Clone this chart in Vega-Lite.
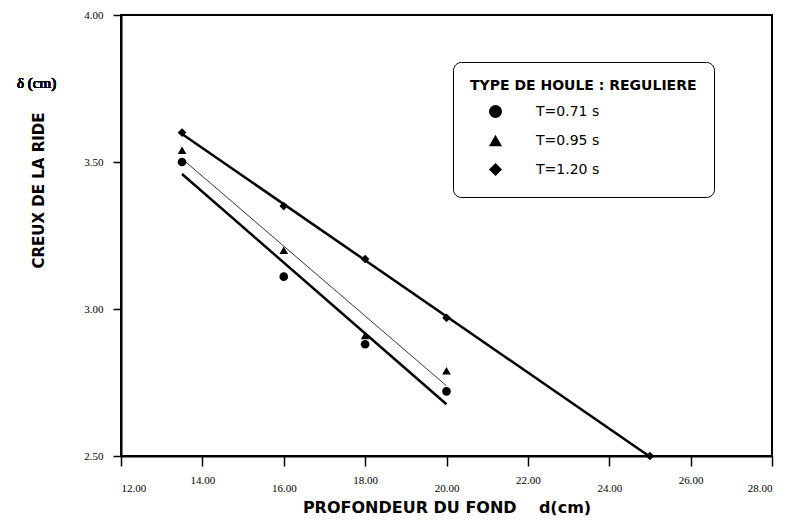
{
  "$schema": "https://vega.github.io/schema/vega-lite/v6.json",
  "width": 651,
  "height": 441,
  "autosize": "none",
  "padding": {"left": 121, "top": 15, "right": 17, "bottom": 64},
  "background": "white",
  "config": {
    "view": {"stroke": "black", "strokeWidth": 2},
    "axis": {
      "domainColor": "black",
      "domainWidth": 2,
      "tickColor": "black",
      "tickWidth": 1.5,
      "grid": false,
      "labelFont": "Liberation Serif",
      "labelFontSize": 11,
      "labelFontWeight": "normal",
      "labelColor": "black",
      "titleColor": "black",
      "titleFont": "DejaVu Sans",
      "titleFontWeight": "bold"
    },
    "legend": {
      "titleFont": "DejaVu Sans",
      "titleFontSize": 14,
      "titleFontWeight": "bold",
      "titleColor": "black",
      "titleLimit": 320,
      "labelFont": "DejaVu Sans",
      "labelFontSize": 14,
      "labelColor": "black"
    }
  },
  "data": {
    "values": [
      {"d": 13.5, "delta": 3.50, "T": "T=0.71 s"},
      {"d": 16.0, "delta": 3.11, "T": "T=0.71 s"},
      {"d": 18.0, "delta": 2.88, "T": "T=0.71 s"},
      {"d": 20.0, "delta": 2.72, "T": "T=0.71 s"},
      {"d": 13.5, "delta": 3.54, "T": "T=0.95 s"},
      {"d": 16.0, "delta": 3.20, "T": "T=0.95 s"},
      {"d": 18.0, "delta": 2.91, "T": "T=0.95 s"},
      {"d": 20.0, "delta": 2.79, "T": "T=0.95 s"},
      {"d": 13.5, "delta": 3.60, "T": "T=1.20 s"},
      {"d": 16.0, "delta": 3.35, "T": "T=1.20 s"},
      {"d": 18.0, "delta": 3.17, "T": "T=1.20 s"},
      {"d": 20.0, "delta": 2.97, "T": "T=1.20 s"},
      {"d": 25.0, "delta": 2.50, "T": "T=1.20 s"}
    ]
  },
  "encoding": {
    "x": {
      "field": "d",
      "type": "quantitative",
      "scale": {"domain": [12, 28], "nice": false, "zero": false},
      "axis": {
        "values": [12, 14, 16, 18, 20, 22, 24, 26, 28],
        "format": ".2f",
        "tickSize": 10,
        "labelPadding": {"condition": {"test": "datum.value % 4 === 2", "value": 8}, "value": 16},
        "labelBaseline": "top",
        "title": "PROFONDEUR DU FOND\u00a0\u00a0\u00a0\u00a0d(cm)",
        "titleFontSize": 16,
        "titleBaseline": "middle",
        "titleY": 51
      }
    },
    "y": {
      "field": "delta",
      "type": "quantitative",
      "scale": {"domain": [2.5, 4.0], "nice": false, "zero": false},
      "axis": {
        "values": [2.5, 3.0, 3.5, 4.0],
        "format": ".2f",
        "tickSize": 8,
        "labelPadding": 10,
        "title": "CREUX DE LA RIDE",
        "titleFontSize": 15,
        "titleX": -83,
        "titleY": 175,
        "titleAlign": "center",
        "titleBaseline": "middle",
        "titleAngle": -90
      }
    }
  },
  "layer": [
    {
      "transform": [{"regression": "delta", "on": "d", "groupby": ["T"]}],
      "mark": {"type": "line", "color": "black"},
      "encoding": {
        "detail": {"field": "T"},
        "strokeWidth": {"condition": {"test": "datum.T === 'T=0.95 s'", "value": 0.8}, "value": 2.5}
      }
    },
    {
      "mark": {"type": "point", "filled": true, "opacity": 1},
      "encoding": {
        "color": {"value": "black"},
        "size": {"value": 75},
        "shape": {
          "field": "T",
          "type": "nominal",
          "scale": {"domain": ["T=0.71 s", "T=0.95 s", "T=1.20 s"], "range": ["circle", "triangle-up", "diamond"]},
          "legend": {
            "title": "TYPE DE HOULE : REGULIERE",
            "orient": "none",
            "legendX": 332,
            "legendY": 47,
            "strokeColor": "black",
            "cornerRadius": 8,
            "padding": 17,
            "titlePadding": 11,
            "rowPadding": 9,
            "symbolSize": 170,
            "symbolOffset": 18,
            "symbolFillColor": "black",
            "symbolStrokeColor": "black",
            "labelOffset": 33
          }
        }
      }
    },
    {
      "mark": {"type": "text", "align": "left", "baseline": "middle", "font": "Liberation Serif", "fontSize": 15, "fontWeight": "normal", "dx": -104, "color": "black"},
      "encoding": {
        "x": {"datum": 12},
        "y": {"datum": 3.77},
        "text": {"value": "δ (cm)"}
      }
    }
  ]
}
